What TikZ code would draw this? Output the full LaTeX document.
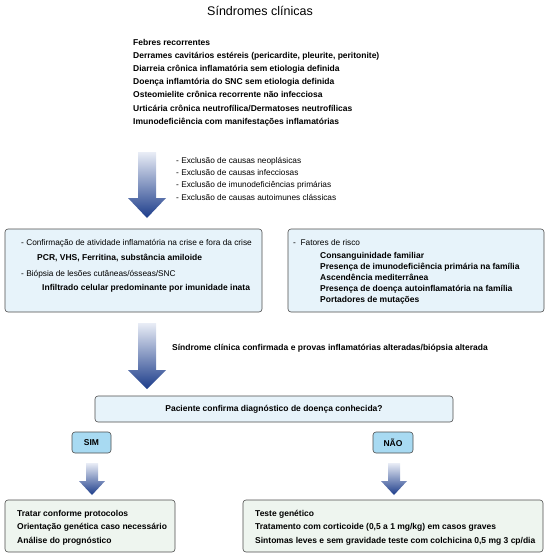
\documentclass[tikz,border=0pt]{standalone}
\usepackage{fontspec}
\setmainfont{Liberation Sans}
\usetikzlibrary{positioning}
\definecolor{boxline}{HTML}{4D4D4D}
\definecolor{paleblue}{HTML}{E7F3FA}
\definecolor{tagblue}{HTML}{A8DAF2}
\definecolor{palegreen}{HTML}{EEF5EF}
\definecolor{arrowtop}{HTML}{E9EDF6}
\definecolor{arrowbot}{HTML}{1C3C8A}
\tikzset{
  panel/.style={draw=boxline, line width=0.6pt, rounded corners=3pt, fill=paleblue, inner sep=0pt},
  endpanel/.style={panel, fill=palegreen},
  tag/.style={panel, fill=tagblue, font=\fontsize{8.5}{10}\selectfont\bfseries},
  line/.style={anchor=base west, inner sep=0pt, font=\fontsize{8.3}{10}\selectfont},
  bline/.style={line, font=\fontsize{8.5}{10}\selectfont\bfseries},
  arrowfill/.style={top color=arrowtop, bottom color=arrowbot, draw=none}
}
\begin{document}
\begin{tikzpicture}[x=1pt,y=-1pt]
\useasboundingbox (0,0) rectangle (550,555);

% titulo e sindromes
\node[inner sep=0pt, font=\fontsize{12.5}{14}\selectfont] (titulo) at (260,11) {Síndromes clínicas};
\foreach \t [count=\i] in {Febres recorrentes,
  {Derrames cavitários estéreis (pericardite, pleurite, peritonite)},
  Diarreia crônica inflamatória sem etiologia definida,
  Doença inflamtória do SNC sem etiologia definida,
  Osteomielite crônica recorrente não infecciosa,
  Urticária crônica neutrofílica/Dermatoses neutrofílicas,
  Imunodeficiência com manifestações inflamatórias}
  \node[bline] (sind\i) at (133,{31.8+13.2*\i}) {\t};

% primeira seta
\shade[arrowfill] (138,152) -- (156,152) -- (156,198) -- (166,198) -- (147,218) -- (128,198) -- (138,198) -- cycle;
\foreach \t [count=\i] in {Exclusão de causas neoplásicas,
  Exclusão de causas infecciosas,
  Exclusão de imunodeficiências primárias,
  Exclusão de causas autoimunes clássicas}
  \node[line] (excl\i) at (176,{150.6+12.4*\i}) {- \t};

% caixas do meio
\node[panel, minimum width=257pt, minimum height=83pt] (crise) at (133.5,270.5) {};
\node[line] (crise1) at (21,245) {- Confirmação de atividade inflamatória na crise e fora da crise};
\node[bline] (crise2) at (37,260) {PCR, VHS, Ferritina, substância amiloide};
\node[line] (crise3) at (21,276) {- Biópsia de lesões cutâneas/ósseas/SNC};
\node[bline] (crise4) at (42,290) {Infiltrado celular predominante por imunidade inata};

\node[panel, minimum width=256pt, minimum height=83pt] (risco) at (416,270.5) {};
\node[line] (risco0) at (293,245) {- \ Fatores de risco};
\foreach \t [count=\i] in {Consanguinidade familiar,
  Presença de imunodeficiência primária na família,
  Ascendência mediterrânea,
  Presença de doença autoinflamatória na família,
  Portadores de mutações}
  \node[bline] (risco\i) at (320,{246.8+11.2*\i}) {\t};

% segunda seta
\shade[arrowfill] (138,323) -- (156,323) -- (156,370) -- (166,370) -- (147,389) -- (128,370) -- (138,370) -- cycle;
\node[bline] (confirmada) at (172,350) {Síndrome clínica confirmada e provas inflamatórias alteradas/biópsia alterada};

% pergunta
\node[panel, minimum width=358pt, minimum height=26pt, font=\fontsize{8.5}{10}\selectfont\bfseries] (pergunta) at (274,409) {Paciente confirma diagnóstico de doença conhecida?};
\node[tag, minimum width=39pt, minimum height=21pt] (sim) at (91.5,442.5) {SIM};
\node[tag, minimum width=40pt, minimum height=21pt] (nao) at (393,442.5) {NÃO};

% setas pequenas
\shade[arrowfill] (86,463) -- (98,463) -- (98,481) -- (105,481) -- (92,495) -- (79,481) -- (86,481) -- cycle;
\shade[arrowfill] (388,463) -- (400,463) -- (400,481) -- (407,481) -- (394,495) -- (381,481) -- (388,481) -- cycle;

% caixas finais
\node[endpanel, minimum width=170pt, minimum height=52pt] (simbox) at (90,526) {};
\foreach \t [count=\i] in {Tratar conforme protocolos,
  Orientação genética caso necessário,
  Análise do prognóstico}
  \node[bline] (sim\i) at (17,{502.5+13.5*\i}) {\t};

\node[endpanel, minimum width=300pt, minimum height=52pt] (naobox) at (393,526) {};
\foreach \t [count=\i] in {Teste genético,
  {Tratamento com corticoide (0,5 a 1 mg/kg) em casos graves},
  {Sintomas leves e sem gravidade teste com colchicina 0,5 mg 3 cp/dia}}
  \node[bline] (nao\i) at (255,{502.5+13.5*\i}) {\t};
\end{tikzpicture}
\end{document}
